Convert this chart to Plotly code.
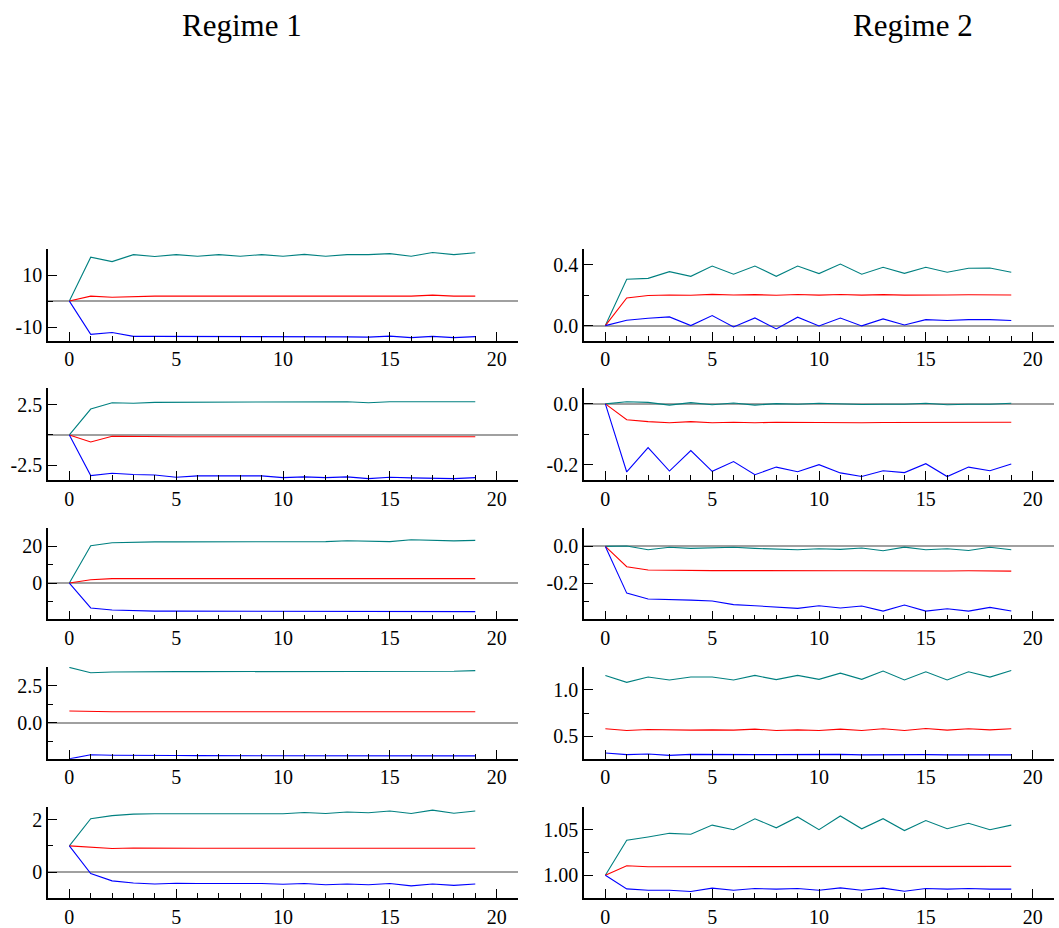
import plotly.graph_objects as go

# ---------------- data ----------------
horizon = list(range(20))

# Regime 1, response 1
r1_p1_upper = [0, 16.9, 15.2, 17.9, 17.2, 17.9, 17.3, 17.9, 17.3, 17.9, 17.3, 18.0, 17.3, 17.9, 17.9, 18.3, 17.3, 18.7, 17.9, 18.6]
r1_p1_mid = [0, 1.9, 1.5, 1.8, 1.9, 1.9, 1.9, 1.9, 1.9, 1.9, 1.9, 1.9, 1.9, 1.9, 1.9, 1.9, 1.9, 2.3, 1.9, 1.9]
r1_p1_lower = [0, -12.8, -12.1, -13.6, -13.6, -13.6, -13.6, -13.6, -13.6, -13.6, -13.6, -13.6, -13.8, -13.8, -13.9, -13.5, -14.1, -13.6, -14.1, -13.7]

# Regime 2, response 1
r2_p1_upper = [0, 0.304, 0.310, 0.354, 0.323, 0.391, 0.337, 0.391, 0.323, 0.391, 0.341, 0.404, 0.337, 0.383, 0.343, 0.383, 0.350, 0.376, 0.378, 0.350]
r2_p1_mid = [0, 0.181, 0.197, 0.201, 0.199, 0.205, 0.201, 0.203, 0.199, 0.204, 0.200, 0.204, 0.200, 0.203, 0.200, 0.203, 0.201, 0.202, 0.201, 0.201]
r2_p1_lower = [0, 0.035, 0.048, 0.057, 0.0, 0.066, -0.009, 0.050, -0.022, 0.055, -0.002, 0.050, -0.002, 0.044, 0.004, 0.039, 0.033, 0.039, 0.039, 0.033]

# Regime 1, response 2
r1_p2_upper = [0, 2.13, 2.65, 2.60, 2.68, 2.68, 2.68, 2.68, 2.70, 2.73, 2.70, 2.73, 2.73, 2.73, 2.65, 2.73, 2.73, 2.73, 2.73, 2.73]
r1_p2_mid = [0, -0.57, -0.11, -0.14, -0.14, -0.14, -0.14, -0.14, -0.14, -0.14, -0.14, -0.14, -0.14, -0.14, -0.14, -0.14, -0.14, -0.14, -0.14, -0.14]
r1_p2_lower = [0, -3.33, -3.14, -3.25, -3.28, -3.47, -3.36, -3.36, -3.42, -3.36, -3.50, -3.44, -3.50, -3.44, -3.58, -3.47, -3.52, -3.58, -3.58, -3.50]

# Regime 2, response 2
r2_p2_upper = [0, 0.007, 0.005, -0.004, 0.004, -0.003, 0.003, -0.004, 0.001, -0.001, 0.002, -0.001, -0.002, -0.001, -0.001, 0.002, -0.003, -0.001, -0.001, 0.002]
r2_p2_mid = [0, -0.052, -0.058, -0.062, -0.058, -0.062, -0.060, -0.062, -0.060, -0.061, -0.060, -0.061, -0.062, -0.061, -0.061, -0.060, -0.062, -0.061, -0.061, -0.060]
r2_p2_lower = [0, -0.223, -0.143, -0.220, -0.153, -0.221, -0.189, -0.232, -0.207, -0.222, -0.199, -0.226, -0.238, -0.219, -0.225, -0.196, -0.238, -0.207, -0.219, -0.197]

# Regime 1, response 3
r1_p3_upper = [0, 20.4, 22.0, 22.4, 22.5, 22.5, 22.5, 22.5, 22.7, 22.7, 22.7, 22.6, 22.6, 23.1, 22.7, 22.6, 23.6, 23.1, 23.0, 23.3]
r1_p3_mid = [0, 1.8, 2.4, 2.4, 2.4, 2.4, 2.4, 2.4, 2.4, 2.4, 2.4, 2.4, 2.4, 2.4, 2.4, 2.4, 2.5, 2.4, 2.4, 2.4]
r1_p3_lower = [0, -13.6, -14.7, -15.1, -15.3, -15.3, -15.3, -15.3, -15.3, -15.3, -15.3, -15.4, -15.4, -15.4, -15.5, -15.6, -15.5, -15.5, -15.5, -15.6]

# Regime 2, response 3
r2_p3_upper = [0, 0.002, -0.018, -0.005, -0.011, -0.009, -0.005, -0.011, -0.015, -0.018, -0.013, -0.016, -0.009, -0.024, -0.004, -0.018, -0.013, -0.022, -0.005, -0.018]
r2_p3_mid = [0, -0.111, -0.129, -0.131, -0.132, -0.132, -0.132, -0.133, -0.133, -0.134, -0.133, -0.133, -0.133, -0.134, -0.133, -0.134, -0.134, -0.133, -0.133, -0.135]
r2_p3_lower = [0, -0.255, -0.287, -0.289, -0.293, -0.298, -0.318, -0.324, -0.331, -0.338, -0.324, -0.336, -0.325, -0.353, -0.320, -0.353, -0.340, -0.353, -0.333, -0.353]

# Regime 1, response 4
r1_p4_upper = [3.76, 3.40, 3.45, 3.47, 3.47, 3.47, 3.47, 3.47, 3.47, 3.47, 3.47, 3.47, 3.47, 3.47, 3.47, 3.49, 3.47, 3.47, 3.50, 3.54]
r1_p4_mid = [0.79, 0.74, 0.74, 0.74, 0.74, 0.74, 0.74, 0.74, 0.75, 0.74, 0.74, 0.74, 0.74, 0.74, 0.74, 0.75, 0.74, 0.74, 0.74, 0.74]
r1_p4_lower = [-2.46, -2.18, -2.21, -2.23, -2.23, -2.23, -2.24, -2.24, -2.24, -2.24, -2.24, -2.24, -2.24, -2.24, -2.24, -2.24, -2.25, -2.25, -2.25, -2.26]

# Regime 2, response 4
r2_p4_upper = [1.158, 1.083, 1.140, 1.108, 1.140, 1.140, 1.108, 1.158, 1.112, 1.158, 1.115, 1.183, 1.115, 1.205, 1.108, 1.198, 1.108, 1.198, 1.140, 1.212]
r2_p4_mid = [0.579, 0.561, 0.572, 0.565, 0.565, 0.568, 0.565, 0.576, 0.561, 0.568, 0.561, 0.576, 0.561, 0.579, 0.561, 0.583, 0.565, 0.579, 0.568, 0.579]
r2_p4_lower = [0.317, 0.299, 0.306, 0.291, 0.302, 0.299, 0.299, 0.299, 0.299, 0.302, 0.297, 0.302, 0.297, 0.299, 0.297, 0.299, 0.297, 0.297, 0.297, 0.297]

# Regime 1, response 5
r1_p5_upper = [1.0, 2.04, 2.16, 2.22, 2.23, 2.23, 2.23, 2.23, 2.25, 2.24, 2.23, 2.28, 2.24, 2.30, 2.27, 2.34, 2.24, 2.37, 2.25, 2.34]
r1_p5_mid = [1.0, 0.96, 0.90, 0.92, 0.91, 0.91, 0.91, 0.91, 0.91, 0.91, 0.91, 0.93, 0.91, 0.91, 0.91, 0.91, 0.91, 0.91, 0.91, 0.91]
r1_p5_lower = [1.0, -0.06, -0.34, -0.42, -0.46, -0.43, -0.44, -0.44, -0.44, -0.44, -0.47, -0.44, -0.49, -0.46, -0.49, -0.44, -0.53, -0.46, -0.51, -0.46]

# Regime 2, response 5
r2_p5_upper = [1.0, 1.0384, 1.042, 1.046, 1.045, 1.055, 1.050, 1.062, 1.052, 1.064, 1.050, 1.065, 1.051, 1.062, 1.049, 1.060, 1.051, 1.057, 1.050, 1.055]
r2_p5_mid = [1.0, 1.0105, 1.0094, 1.0094, 1.0094, 1.0101, 1.0094, 1.0098, 1.0094, 1.0098, 1.0094, 1.0098, 1.0094, 1.0098, 1.0094, 1.0094, 1.0094, 1.0094, 1.0094, 1.0098]
r2_p5_lower = [1.0, 0.9851, 0.9837, 0.9837, 0.9822, 0.9859, 0.9837, 0.9855, 0.9848, 0.9855, 0.9837, 0.9862, 0.9837, 0.9859, 0.9826, 0.9855, 0.9848, 0.9855, 0.9848, 0.9848]

regime_titles = ["Regime 1", "Regime 2"]
x_tick_vals = [0, 5, 10, 15, 20]
x_tick_text = ["0", "5", "10", "15", "20"]

# y-axis ranges, labelled ticks and minor ticks per panel (row-major: left, right)
y_ranges = [[-15.2, 20.1], [-0.098, 0.503],
            [-3.69, 3.83], [-0.249, 0.051],
            [-19.8, 30.2], [-0.398, 0.102],
            [-2.45, 3.78], [0.255, 1.248],
            [-1.0, 2.51], [0.975, 1.0754]]
y_label_vals = [[-10, 10], [0.0, 0.4],
                [-2.5, 2.5], [-0.2, 0.0],
                [0, 20], [-0.2, 0.0],
                [0.0, 2.5], [0.5, 1.0],
                [0, 2], [1.00, 1.05]]
y_label_text = [["-10", "10"], ["0.0", "0.4"],
                ["-2.5", "2.5"], ["-0.2", "0.0"],
                ["0", "20"], ["-0.2", "0.0"],
                ["0.0", "2.5"], ["0.5", "1.0"],
                ["0", "2"], ["1.00", "1.05"]]
y_minor_vals = [[0, 20], [0.2],
                [0.0], [-0.1],
                [-10, 10, 30], [-0.3, -0.1, 0.1],
                [-1.25, 1.25, 3.75], [0.75],
                [-1, 1], [1.025, 1.075]]

series = [
    (r1_p1_upper, r1_p1_mid, r1_p1_lower), (r2_p1_upper, r2_p1_mid, r2_p1_lower),
    (r1_p2_upper, r1_p2_mid, r1_p2_lower), (r2_p2_upper, r2_p2_mid, r2_p2_lower),
    (r1_p3_upper, r1_p3_mid, r1_p3_lower), (r2_p3_upper, r2_p3_mid, r2_p3_lower),
    (r1_p4_upper, r1_p4_mid, r1_p4_lower), (r2_p4_upper, r2_p4_mid, r2_p4_lower),
    (r1_p5_upper, r1_p5_mid, r1_p5_lower), (r2_p5_upper, r2_p5_mid, r2_p5_lower),
]

# ---------------- styling / layout ----------------
W, H = 1059, 928
FONT = "Liberation Serif, Times New Roman, serif"
col_px = [(48, 518), (584, 1054)]
row_px = [(250, 342), (390, 482), (530, 622), (670, 762), (810, 902)]
colors = ["#008080", "#ff0000", "#0000ff"]

fig = go.Figure()
layout = dict(
    width=W, height=H, autosize=False,
    margin=dict(l=0, r=0, t=0, b=0),
    paper_bgcolor="white", plot_bgcolor="white",
    showlegend=False,
    font=dict(family=FONT, size=20, color="#000000"),
)

for i, (up, mid, lo) in enumerate(series):
    row, col = divmod(i, 2)
    n = i + 1
    xa = "x" if n == 1 else f"x{n}"
    ya = "y" if n == 1 else f"y{n}"
    for ys, c in zip((up, mid, lo), colors):
        fig.add_trace(go.Scatter(x=horizon, y=ys, mode="lines",
                                 line=dict(color=c, width=1.1),
                                 xaxis=xa, yaxis=ya, hoverinfo="skip"))
    x0, x1 = col_px[col]
    y0, y1 = row_px[row]
    xkey = "xaxis" if n == 1 else f"xaxis{n}"
    ykey = "yaxis" if n == 1 else f"yaxis{n}"
    layout[xkey] = dict(
        domain=[x0 / W, x1 / W], anchor=ya, range=[-1, 21],
        showline=True, linecolor="black", linewidth=1.5,
        showgrid=False, zeroline=False,
        tickmode="array", tickvals=x_tick_vals, ticktext=x_tick_text,
        ticks="inside", ticklen=9, tickwidth=1, tickcolor="black",
        tickfont=dict(family=FONT, size=20, color="#000000"),
        minor=dict(tickmode="array", tickvals=horizon, ticks="inside",
                   ticklen=5, tickwidth=1, tickcolor="black", showgrid=False),
        fixedrange=True,
    )
    layout[ykey] = dict(
        domain=[1 - y1 / H, 1 - y0 / H], anchor=xa, range=y_ranges[i],
        showline=True, linecolor="black", linewidth=1.5,
        showgrid=False,
        zeroline=True, zerolinecolor="#a0a0a0", zerolinewidth=1.5,
        tickmode="array", tickvals=y_label_vals[i], ticktext=y_label_text[i],
        ticks="inside", ticklen=9, tickwidth=1, tickcolor="black",
        tickfont=dict(family=FONT, size=20, color="#000000"),
        minor=dict(tickmode="array", tickvals=y_minor_vals[i], ticks="inside",
                   ticklen=5, tickwidth=1, tickcolor="black", showgrid=False),
        fixedrange=True,
    )

title_x_px = [242, 913]
layout["annotations"] = [
    dict(text=t, x=px / W, y=1 - 26 / H, xref="paper", yref="paper",
         xanchor="center", yanchor="middle", showarrow=False,
         font=dict(family=FONT, size=31, color="#000000"))
    for t, px in zip(regime_titles, title_x_px)
]

fig.update_layout(**layout)
fig.write_html("out.html")
